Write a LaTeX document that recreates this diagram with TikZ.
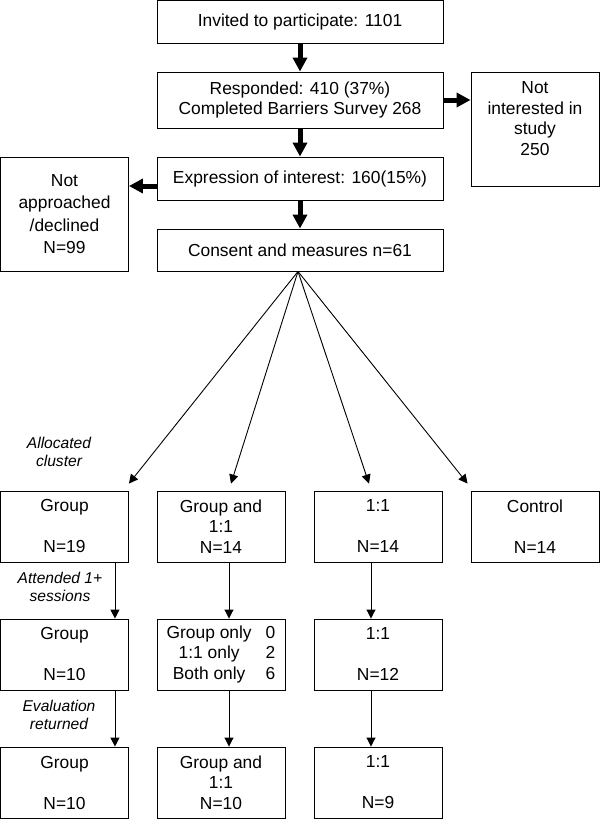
\documentclass[tikz,border=0pt]{standalone}
\usepackage{fontspec}
\setmainfont{Liberation Sans}
\usetikzlibrary{arrows.meta}

\begin{document}
\begin{tikzpicture}[x=1pt,y=-1pt,
	every node/.style={font=\fontsize{17.4}{20.5}\selectfont},
	box/.style={draw,line width=0.9pt,minimum width=128pt,minimum height=71pt,align=center,inner sep=0pt},
	wide/.style={box,minimum width=286pt},
	note/.style={align=center,font=\fontsize{15.6}{18.5}\selectfont\itshape},
	fat/.style={line width=5pt,-{Triangle[length=14pt,width=14pt]}},
	slim/.style={line width=0.9pt,-{Triangle[length=9pt,width=9pt]}}]
\useasboundingbox (0,0) rectangle (600,819);
% recruitment
\node[wide,minimum height=43pt] (inv) at (300,22) {Invited to participate: 1101};
\node[wide,minimum height=56pt] (resp) at (300,100) {Responded: 410 (37\%)\\Completed Barriers Survey 268};
\node[box,minimum height=114pt] (notint) at (535,129) {Not\\interested in\\study\\250\\~};
\node[wide,minimum height=43pt] (expr) at (300,178.5) {Expression of interest: 160(15\%)};
\node[box,minimum height=114pt,font=\fontsize{17.4}{22.3}\selectfont] (notapp) at (64.5,214) {Not\\approached\\/declined\\N=99};
\node[wide,minimum height=42pt] (cons) at (300,250) {Consent and measures n=61};
\draw[fat] (inv) -- (resp);
\draw[fat] (resp.east) -- (resp.east -| notint.west);
\draw[fat] (resp) -- (expr);
\draw[fat] ([yshift=-7.5pt]expr.west) -- ([yshift=-7.5pt]expr.west -| notapp.east);
\draw[fat] (expr) -- (cons);
% clusters
\node[box] (grp1) at (64.5,526.5) {Group\\~\\N=19};
\node[box] (both1) at (221,526.5) {Group and\\1:1\\N=14};
\node[box] (one1) at (378,526.5) {1:1\\~\\N=14};
\node[box] (ctrl) at (535,526.5) {Control\\~\\N=14};
\node[box] (grp2) at (64.5,654.5) {Group\\~\\N=10};
\node[box] (both2) at (221,654.5) {{\begin{tabular}{@{}c@{\hspace{14pt}}r@{}}Group only&0\\1:1 only&2\\Both only&6\end{tabular}}};
\node[box] (one2) at (378,654.5) {1:1\\~\\N=12};
\node[box] (grp3) at (64.5,782.5) {Group\\~\\N=10};
\node[box] (both3) at (221,782.5) {Group and\\1:1\\N=10};
\node[box] (one3) at (378,782.5) {1:1\\~\\N=9};
\node[note] (alloc) at (59,452) {Allocated\\cluster};
\node[note] (attend) at (60,587) {Attended 1+\\sessions};
\node[note] (eval) at (59,715) {Evaluation\\returned};
\draw[slim] ([xshift=-2pt]cons.south) -- ([yshift=7pt]grp1.north east);
\draw[slim] ([xshift=-2pt]cons.south) -- ([shift={(10pt,7pt)}]both1.north);
\draw[slim] ([xshift=-2pt]cons.south) -- ([shift={(-9pt,7pt)}]one1.north);
\draw[slim] ([xshift=-2pt]cons.south) -- ([shift={(-3pt,7pt)}]ctrl.north west);
\draw[slim] ([xshift=-14pt]grp1.south east) -- ([xshift=-14pt]grp2.north east);
\draw[slim] ([xshift=-14pt]grp2.south east) -- ([xshift=-14pt]grp3.north east);
\draw[slim] ([xshift=8pt]both1.south) -- ([xshift=8pt]both2.north);
\draw[slim] ([xshift=8pt]both2.south) -- ([xshift=8pt]both3.north);
\draw[slim] ([xshift=-7pt]one1.south) -- ([xshift=-7pt]one2.north);
\draw[slim] ([xshift=-7pt]one2.south) -- ([xshift=-7pt]one3.north);
\end{tikzpicture}
\end{document}
